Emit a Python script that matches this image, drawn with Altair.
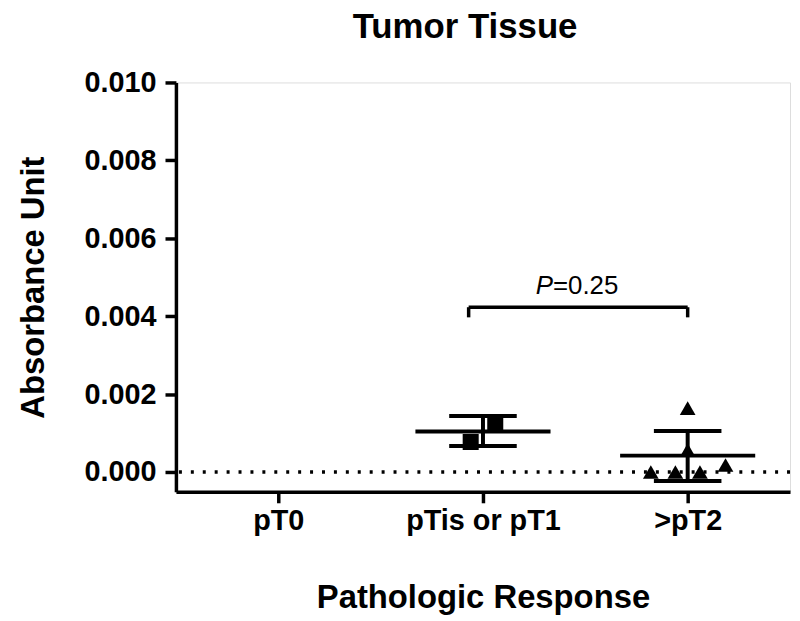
import altair as alt
import pandas as pd

# ---- data ----
categories = ["pT0", "pTis or pT1", ">pT2"]
group_pos = [1, 2, 3]

# individual points
ptis_values = [0.00128, 0.00077]
ptis_jitter = [0.06, -0.06]
pt2_values = [0.0, 0.0, 0.0, 0.00018, 0.00056, 0.00164]
pt2_jitter = [-0.18, -0.06, 0.06, 0.185, 0.0, 0.0]

# mean and mean±SD (groups pTis or pT1, >pT2)
summary_groups = [2, 3]
means = [0.00104, 0.00042]
upper = [0.00144, 0.00105]
lower = [0.00067, -0.00023]

# significance bracket
bracket_x = [1.93, 3.0]
bracket_y = 0.00423
bracket_leg_y = 0.00397
p_label_y = 0.00477
p_label_x = 2.342

FONT = "Liberation Sans"

sq = pd.DataFrame({"x": [2 + j for j in ptis_jitter], "y": ptis_values})
tr = pd.DataFrame({"x": [3 + j for j in pt2_jitter], "y": pt2_values})
summ = pd.DataFrame({
    "g": summary_groups,
    "mean": means,
    "up": upper,
    "lo": lower,
})
summ["m1"] = summ["g"] - 0.33
summ["m2"] = summ["g"] + 0.33
summ["c1"] = summ["g"] - 0.165
summ["c2"] = summ["g"] + 0.165

label_expr = "datum.value == 1 ? 'pT0' : datum.value == 2 ? 'pTis or pT1' : datum.value == 3 ? '>pT2' : ''"

xscale = alt.Scale(domain=[0.5, 3.5], nice=False, zero=False)
yscale = alt.Scale(domain=[-0.00051, 0.010], nice=False, zero=False)

xax = alt.Axis(values=group_pos, labelExpr=label_expr, title="Pathologic Response",
               grid=False, labelFont=FONT, labelFontWeight="bold", labelFontSize=29,
               titleFont=FONT, titleFontWeight="bold", titleFontSize=33,
               labelColor="black", titleColor="black", domainColor="black",
               tickColor="black", domainWidth=3.5, tickWidth=3.5, tickSize=11,
               labelPadding=4, titlePadding=46, labelFlush=False)
yax = alt.Axis(values=[0, 0.002, 0.004, 0.006, 0.008, 0.010], format=".3f",
               title="Absorbance Unit", grid=False, labelFont=FONT,
               labelFontWeight="bold", labelFontSize=29, titleFont=FONT,
               titleFontWeight="bold", titleFontSize=33, labelColor="black",
               titleColor="black", domainColor="black", tickColor="black",
               domainWidth=3.5, tickWidth=3.5, tickSize=11, labelPadding=9,
               titlePadding=34, labelFlush=False)

base_x = alt.X("x:Q", scale=xscale, axis=xax)
base_y = alt.Y("y:Q", scale=yscale, axis=yax)

zero_line = alt.Chart(pd.DataFrame({"y": [0.0]})).mark_rule(
    color="black", strokeWidth=3.5, strokeDash=[3, 9]
).encode(y=base_y)

mean_line = alt.Chart(summ).mark_rule(color="black", strokeWidth=4).encode(
    x=alt.X("m1:Q", scale=xscale, axis=xax), x2="m2:Q", y=alt.Y("mean:Q", scale=yscale, axis=yax))
cap_up = alt.Chart(summ).mark_rule(color="black", strokeWidth=4).encode(
    x=alt.X("c1:Q", scale=xscale), x2="c2:Q", y=alt.Y("up:Q", scale=yscale))
cap_lo = alt.Chart(summ).mark_rule(color="black", strokeWidth=4).encode(
    x=alt.X("c1:Q", scale=xscale), x2="c2:Q", y=alt.Y("lo:Q", scale=yscale))
vert = alt.Chart(summ).mark_rule(color="black", strokeWidth=4).encode(
    x=alt.X("g:Q", scale=xscale), y=alt.Y("lo:Q", scale=yscale), y2="up:Q")

squares = alt.Chart(sq).mark_point(shape="square", filled=True, color="black",
                                   opacity=1, size=260).encode(x=base_x, y=base_y)
triangles = alt.Chart(tr).mark_point(shape="triangle-up", filled=True, color="black",
                                     opacity=1, size=250).encode(x=base_x, y=base_y)

br = pd.DataFrame({"x1": [bracket_x[0]], "x2": [bracket_x[1]], "y": [bracket_y]})
bracket_h = alt.Chart(br).mark_rule(color="black", strokeWidth=3.5).encode(
    x=alt.X("x1:Q", scale=xscale), x2="x2:Q", y=alt.Y("y:Q", scale=yscale))
legs = pd.DataFrame({"x": bracket_x, "y1": [bracket_leg_y] * 2, "y2": [bracket_y] * 2})
bracket_v = alt.Chart(legs).mark_rule(color="black", strokeWidth=3.5).encode(
    x=alt.X("x:Q", scale=xscale), y=alt.Y("y1:Q", scale=yscale), y2="y2:Q")

ptxt = pd.DataFrame({"x": [p_label_x], "y": [p_label_y]})
p_italic = alt.Chart(ptxt).mark_text(text="P", font=FONT, fontSize=26, fontStyle="italic",
                                     align="right", baseline="middle", color="black").encode(
    x=alt.X("x:Q", scale=xscale), y=alt.Y("y:Q", scale=yscale))
p_rest = alt.Chart(ptxt).mark_text(text="=0.25", font=FONT, fontSize=26,
                                   align="left", baseline="middle", color="black").encode(
    x=alt.X("x:Q", scale=xscale), y=alt.Y("y:Q", scale=yscale))

chart = alt.layer(
    zero_line, mean_line, cap_up, cap_lo, vert, squares, triangles,
    bracket_h, bracket_v, p_italic, p_rest
).properties(
    width=618, height=412,
    title=alt.TitleParams("Tumor Tissue", font=FONT, fontSize=35, fontWeight="bold",
                          color="black", anchor="middle", offset=24, dx=-18),
    padding={"left": 9, "top": 0, "right": 0, "bottom": 0},
).configure_view(stroke=None).configure(background="white")

chart.save("out.html", embed_options={"renderer": "svg", "actions": False})
